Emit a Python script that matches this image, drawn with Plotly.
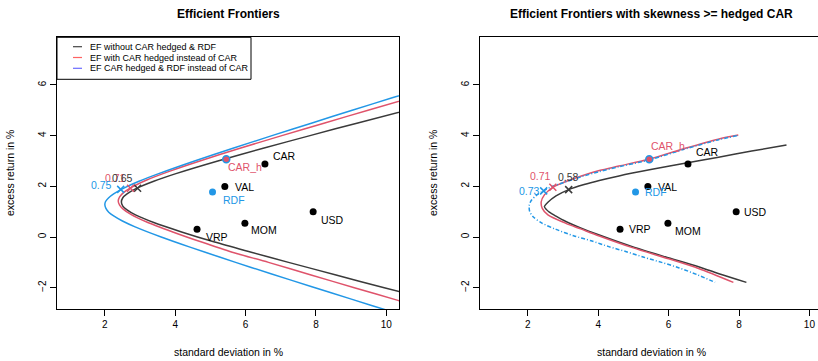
import plotly.graph_objects as go

W, H = 818, 361

# ---------------- data ----------------
asset_names = ["CAR", "VAL", "USD", "MOM", "VRP"]
asset_sd = [6.55, 5.41, 7.92, 5.98, 4.62]
asset_ret = [2.88, 1.99, 1.00, 0.54, 0.31]
rdf_sd, rdf_ret = [5.06], [1.78]
carh_sd, carh_ret = [5.45], [3.07]

# left panel: efficient frontiers
ef_black_ret = [5.2, 4.5, 4.0, 3.5, 3.0, 2.5, 2.2, 1.9, 1.7, 1.55, 1.385, 1.22, 1.07, 0.87, 0.57, 0.2, -0.2, -0.6, -1.0, -1.5, -2.0, -2.5]
ef_black_sd = [11.13, 9.19, 7.83, 6.50, 5.21, 4.02, 3.39, 2.87, 2.63, 2.51, 2.47, 2.51, 2.63, 2.87, 3.39, 4.18, 5.12, 6.16, 7.22, 8.57, 9.94, 11.32]
ef_red_ret = [5.6, 5.0, 4.5, 4.0, 3.5, 3.0, 2.6, 2.25, 1.95, 1.75, 1.58, 1.42, 1.26, 1.09, 0.89, 0.59, 0.2, -0.2, -0.6, -1.0, -1.5, -2.0, -2.5, -3.0]
ef_red_sd = [10.98, 9.48, 8.25, 7.03, 5.84, 4.70, 3.85, 3.19, 2.74, 2.53, 2.42, 2.38, 2.42, 2.53, 2.74, 3.19, 3.93, 4.75, 5.62, 6.65, 7.86, 9.09, 10.33, 11.58]
ef_blue_ret = [6.0, 5.5, 5.0, 4.5, 4.0, 3.5, 3.0, 2.5, 2.2, 1.9, 1.7, 1.55, 1.4, 1.27, 1.13, 0.98, 0.83, 0.63, 0.4, 0.0, -0.4, -0.8, -1.2, -1.7, -2.2, -2.7, -3.2]
ef_blue_sd = [11.35, 10.19, 9.03, 7.89, 6.75, 5.64, 4.55, 3.53, 2.97, 2.50, 2.25, 2.11, 2.02, 2.0, 2.03, 2.11, 2.25, 2.50, 2.86, 3.60, 4.42, 5.28, 6.16, 7.29, 8.43, 9.58, 10.74]

# left panel: tangency crosses and their labels
tan_l_sd = [2.93, 2.73, 2.45]
tan_l_ret = [1.92, 1.92, 1.88]
tan_l_lab = ["0.65", "0.71", "0.75"]

# right panel: frontiers with skewness constraint
sk_black_sd = [9.35, 8.36, 7.42, 6.54, 5.53, 4.59, 4.03, 3.6, 3.16, 2.80, 2.57, 2.47, 2.53, 2.61, 2.8, 3.08, 3.5, 4.03, 4.97, 5.9, 6.85, 7.5, 8.21]
sk_black_ret = [3.63, 3.39, 3.15, 2.93, 2.67, 2.41, 2.23, 2.07, 1.87, 1.62, 1.37, 1.20, 1.08, 0.98, 0.82, 0.61, 0.36, 0.08, -0.38, -0.78, -1.17, -1.48, -1.79]
sk_red_sd = [7.98, 7.41, 6.47, 5.44, 4.59, 4.03, 3.5, 3.1, 2.71, 2.47, 2.38, 2.41, 2.57, 3.08, 3.5, 4.03, 4.97, 6.0, 6.85, 7.84]
sk_red_ret = [4.02, 3.86, 3.50, 3.07, 2.80, 2.62, 2.40, 2.20, 1.96, 1.66, 1.39, 1.13, 0.87, 0.54, 0.32, 0.04, -0.42, -0.86, -1.24, -1.79]
sk_blue_sd = [7.95, 7.4, 6.47, 5.44, 4.59, 4.03, 3.5, 3.0, 2.7, 2.45, 2.25, 2.10, 2.04, 2.05, 2.15, 2.4, 2.8, 3.3, 3.8, 4.3, 4.8, 5.3, 5.8, 6.3, 6.8, 7.32]
sk_blue_ret = [4.0, 3.83, 3.47, 3.04, 2.77, 2.58, 2.37, 2.14, 2.0, 1.82, 1.65, 1.45, 1.25, 1.02, 0.8, 0.55, 0.3, 0.05, -0.15, -0.38, -0.58, -0.8, -1.0, -1.22, -1.48, -1.79]

tan_r_sd = [3.16, 2.71, 2.45]
tan_r_ret = [1.87, 1.96, 1.82]
tan_r_lab = ["0.58", "0.71", "0.73"]

x_ticks = [2, 4, 6, 8, 10]
y_ticks = [-2, 0, 2, 4, 6]

titles = ["Efficient Frontiers", "Efficient Frontiers with skewness >= hedged CAR"]
x_title = "standard deviation in %"
y_title = "excess return in %"
legend_labels = ["EF without CAR hedged & RDF", "EF with CAR hedged instead of CAR",
                 "EF CAR hedged & RDF instead of CAR"]

# ---------------- style ----------------
BLACK = "#3a3a3a"
RED = "#DF536B"
BLUE = "#2297E6"
FONT = "Liberation Sans, Arial, sans-serif"

def px(x):
    return x / W

def py(y):
    return 1 - y / H

fig = go.Figure()

def add_line(xs, ys, color, xa, ya, dash="solid"):
    fig.add_trace(go.Scatter(x=xs, y=ys, mode="lines", xaxis=xa, yaxis=ya,
                             line=dict(color=color, width=1.5, dash=dash, shape="spline", smoothing=0.8),
                             showlegend=False, hoverinfo="skip"))

# left frontiers
add_line(ef_black_sd, ef_black_ret, BLACK, "x", "y")
add_line(ef_red_sd, ef_red_ret, RED, "x", "y")
add_line(ef_blue_sd, ef_blue_ret, BLUE, "x", "y")
# right frontiers
add_line(sk_black_sd, sk_black_ret, BLACK, "x2", "y2")
add_line(sk_red_sd, sk_red_ret, RED, "x2", "y2")
add_line(sk_blue_sd, sk_blue_ret, BLUE, "x2", "y2", dash="4px,2px,1px,2px")

cross_cols = [BLACK, RED, BLUE]
for xa, ya, sds, rets in [("x", "y", tan_l_sd, tan_l_ret), ("x2", "y2", tan_r_sd, tan_r_ret)]:
    fig.add_trace(go.Scatter(x=sds, y=rets, mode="markers", xaxis=xa, yaxis=ya,
                             marker=dict(symbol="x-thin", size=7, line=dict(width=1.5, color=cross_cols)),
                             showlegend=False, hoverinfo="skip"))
    fig.add_trace(go.Scatter(x=asset_sd, y=asset_ret, mode="markers", xaxis=xa, yaxis=ya,
                             marker=dict(color="black", size=7), showlegend=False, hoverinfo="skip"))
    fig.add_trace(go.Scatter(x=rdf_sd, y=rdf_ret, mode="markers", xaxis=xa, yaxis=ya,
                             marker=dict(color=BLUE, size=7), showlegend=False, hoverinfo="skip"))
    fig.add_trace(go.Scatter(x=carh_sd, y=carh_ret, mode="markers", xaxis=xa, yaxis=ya,
                             marker=dict(color=RED, size=7, line=dict(color=BLUE, width=1.5)),
                             showlegend=False, hoverinfo="skip"))

# point labels: (xshift, yshift) offsets per panel
lab_off_l = {"CAR": (6, 8), "VAL": (8, 0), "USD": (6, -8), "MOM": (4, -7), "VRP": (7, -8)}
lab_off_r = {"CAR": (6, 12), "VAL": (8, 0), "USD": (6, 0), "MOM": (5, -8), "VRP": (7, 0)}
ann = []
for xa, ya, off, rdf_off, carh_off in [("x", "y", lab_off_l, (8, -8), (0, -8)),
                                        ("x2", "y2", lab_off_r, (7, 0), (0, 13))]:
    for n, s, r in zip(asset_names, asset_sd, asset_ret):
        ann.append(dict(x=s, y=r, xref=xa, yref=ya, text=n, showarrow=False, xanchor="left",
                        yanchor="middle", xshift=off[n][0], yshift=off[n][1],
                        font=dict(size=10.5, color="black", family=FONT)))
    ann.append(dict(x=rdf_sd[0], y=rdf_ret[0], xref=xa, yref=ya, text="RDF", showarrow=False,
                    xanchor="left", yanchor="middle", xshift=rdf_off[0], yshift=rdf_off[1],
                    font=dict(size=10.5, color=BLUE, family=FONT)))
    ann.append(dict(x=carh_sd[0], y=carh_ret[0], xref=xa, yref=ya, text="CAR_h", showarrow=False,
                    xanchor="left", yanchor="middle", xshift=carh_off[0], yshift=carh_off[1],
                    font=dict(size=10.5, color=RED, family=FONT)))

# cross labels
cross_off_l = [("right", -3, 10), ("right", -3, 10), ("right", -7, 4)]
cross_off_r = [("center", 0, 13), ("right", 0, 11), ("right", -2, 0)]
for xa, ya, sds, rets, labs, offs in [("x", "y", tan_l_sd, tan_l_ret, tan_l_lab, cross_off_l),
                                       ("x2", "y2", tan_r_sd, tan_r_ret, tan_r_lab, cross_off_r)]:
    for i in [1, 2, 0]:
        a, dx, dy = offs[i]
        ann.append(dict(x=sds[i], y=rets[i], xref=xa, yref=ya, text=labs[i], showarrow=False,
                        xanchor=a, yanchor="middle", xshift=dx, yshift=dy,
                        font=dict(size=10.5, color=cross_cols[i], family=FONT)))

# titles
for cx, t in [(228, titles[0]), (651, titles[1])]:
    ann.append(dict(x=px(cx), y=py(14), xref="paper", yref="paper", text="<b>" + t + "</b>",
                    showarrow=False, xanchor="center", yanchor="middle",
                    font=dict(size=12, color="black", family=FONT)))
for cx in [228, 651]:
    ann.append(dict(x=px(cx), y=py(352), xref="paper", yref="paper", text=x_title,
                    showarrow=False, xanchor="center", yanchor="middle",
                    font=dict(size=10.5, color="black", family=FONT)))
for cx in [10, 433]:
    ann.append(dict(x=px(cx), y=py(173), xref="paper", yref="paper", text=y_title, textangle=-90,
                    showarrow=False, xanchor="center", yanchor="middle",
                    font=dict(size=10.5, color="black", family=FONT)))

# legend (drawn manually in R style)
shapes = [dict(type="rect", xref="paper", yref="paper", x0=px(57), x1=px(251), y0=py(79.3), y1=py(37.3),
               line=dict(color="black", width=1), fillcolor="white", layer="above")]
leg_cols = ["#444444", "rgba(255,60,60,0.8)", "rgba(70,70,255,0.8)"]
for i, (lab, c) in enumerate(zip(legend_labels, leg_cols)):
    yy = 46.7 + i * 10.8
    shapes.append(dict(type="line", xref="paper", yref="paper", x0=px(73), x1=px(82), y0=py(yy), y1=py(yy),
                       line=dict(color=c, width=1.2), layer="above"))
    ann.append(dict(x=px(88), y=py(yy), xref="paper", yref="paper", text=lab, showarrow=False,
                    xanchor="left", yanchor="middle", font=dict(size=9, color="black", family=FONT)))

axis_common = dict(showgrid=False, zeroline=False, showline=True, linecolor="black", linewidth=1,
                   ticks="outside", ticklen=6, tickcolor="black", tickwidth=1,
                   tickfont=dict(size=10, color="black", family=FONT), automargin=False)

fig.update_layout(
    width=W, height=H, margin=dict(l=0, r=0, t=0, b=0),
    paper_bgcolor="white", plot_bgcolor="white", template="none", showlegend=False,
    xaxis=dict(domain=[px(57), px(399)], range=[0.64, 10.36], tickvals=x_ticks, mirror=True,
               anchor="y", **axis_common),
    yaxis=dict(domain=[py(309), py(37)], range=[-2.84, 7.89], tickvals=y_ticks, mirror=True,
               tickangle=-90, anchor="x", **axis_common),
    xaxis2=dict(domain=[px(480), 1.0], range=[0.64, 10.245], tickvals=x_ticks, mirror=True,
                anchor="y2", **axis_common),
    yaxis2=dict(domain=[py(309), py(37)], range=[-2.84, 7.89], tickvals=y_ticks, mirror=False,
                tickangle=-90, anchor="x2", **axis_common),
    annotations=ann, shapes=shapes,
)

fig.write_html("out.html", config={"displayModeBar": False},
               post_script="document.body.style.margin='0px';document.body.style.overflow='hidden';")
